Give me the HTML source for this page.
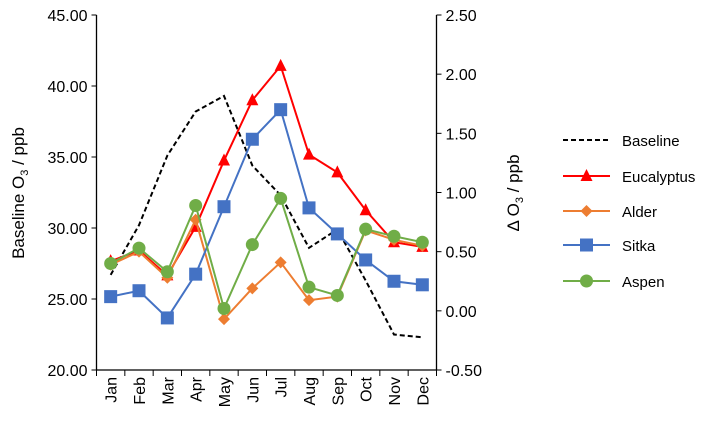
<!DOCTYPE html>
<html><head><meta charset="utf-8"><style>
body{margin:0;background:#fff;}
svg text{font-family:"Liberation Sans",Arial,sans-serif;fill:#000;}
</style></head><body>
<svg width="715" height="423">
<g id="g"></g>
</svg>
<script>
const months=["Jan","Feb","Mar","Apr","May","Jun","Jul","Aug","Sep","Oct","Nov","Dec"];
const baseline=[26.7,30.2,35.1,38.2,39.3,34.4,32.3,28.6,29.9,26.3,22.5,22.3];
const eucalyptus=[0.42,0.51,0.30,0.71,1.27,1.78,2.07,1.32,1.17,0.85,0.58,0.54];
const alder=[0.39,0.50,0.28,0.77,-0.07,0.19,0.41,0.09,0.12,0.68,0.60,0.55];
const sitka=[0.12,0.17,-0.06,0.31,0.88,1.45,1.70,0.87,0.65,0.43,0.25,0.22];
const aspen=[0.40,0.53,0.33,0.89,0.02,0.56,0.95,0.20,0.13,0.69,0.63,0.58];
const leftTicks=["20.00","25.00","30.00","35.00","40.00","45.00"];
const rightTicks=["-0.50","0.00","0.50","1.00","1.50","2.00","2.50"];
const NS="http://www.w3.org/2000/svg",g=document.getElementById('g');
const L=96.5,R=436.5,T=15,B=370;
const cw=(R-L)/12;
const x=i=>L+cw*(i+0.5);
const yL=v=>B-(v-20)/25*(B-T);
const yR=v=>B-(v+0.5)/3*(B-T);
function el(t,a,p){const e=document.createElementNS(NS,t);for(const k in a)e.setAttribute(k,a[k]);(p||g).appendChild(e);return e;}
// axes
let e;
e=el('line',{x1:L,y1:T,x2:L,y2:B,stroke:'#000','stroke-width':1.3});

e=el('line',{x1:R,y1:T,x2:R,y2:B,stroke:'#000','stroke-width':1.3});

e=el('line',{x1:L,y1:B,x2:R,y2:B,stroke:'#000','stroke-width':1.3});

leftTicks.forEach(t=>{const y=yL(+t);el('line',{x1:L-5,y1:y,x2:L,y2:y,stroke:'#000'});
e=el('text',{x:L-9,y:y+6,'text-anchor':'end','font-size':16});e.textContent=t;
});
rightTicks.forEach(t=>{const y=yR(+t);el('line',{x1:R,y1:y,x2:R+5,y2:y,stroke:'#000'});
e=el('text',{x:R+9,y:y+6,'font-size':16});e.textContent=t;
});
for(let i=0;i<=12;i++){el('line',{x1:L+cw*i,y1:B,x2:L+cw*i,y2:B+6,stroke:'#000'});}
months.forEach((m,i)=>{e=el('text',{x:0,y:0,'text-anchor':'end','font-size':16,transform:`translate(${x(i)+6},${B+7}) rotate(-90)`});e.textContent=m;
});
// titles
e=el('text',{transform:'translate(24,193) rotate(-90)','text-anchor':'middle','font-size':17});
e.innerHTML='Baseline O<tspan font-size="11" dy="4">3</tspan><tspan dy="-4"> / ppb</tspan>';

e=el('text',{transform:'translate(519,193) rotate(-90)','text-anchor':'middle','font-size':17});
e.innerHTML='Δ O<tspan font-size="11" dy="4">3</tspan><tspan dy="-4"> / ppb</tspan>';

function marker(type,cx,cy,col,p){
 if(type==='tri')return el('polygon',{points:`${cx},${cy-7} ${cx+6},${cy+5} ${cx-6},${cy+5}`,fill:col},p);
 if(type==='dia')return el('polygon',{points:`${cx},${cy-6} ${cx+6},${cy} ${cx},${cy+6} ${cx-6},${cy}`,fill:col},p);
 if(type==='sq')return el('rect',{x:cx-6.5,y:cy-6.5,width:13,height:13,fill:col},p);
 if(type==='circ')return el('circle',{cx,cy,r:6.5,fill:col},p);
}
function series(name,vals,yf,col,type,dash,ly){
 const sg=el('g',{});
 
 el('polyline',{points:vals.map((v,i)=>x(i)+','+yf(v)).join(' '),fill:'none',stroke:col,'stroke-width':dash?2:2,'stroke-dasharray':dash?'5,3':'none'},sg);
 if(type)vals.forEach((v,i)=>{const m=marker(type,x(i),yf(v),col,sg);
  });
 const lg=el('g',{});
 
 el('line',{x1:563,y1:ly,x2:610,y2:ly,stroke:col,'stroke-width':2,'stroke-dasharray':dash?'5,3':'none'},lg);
 if(type)marker(type,586.5,ly,col,lg);
 const t=el('text',{x:622,y:ly+6,'font-size':15},lg);t.textContent=name;
}
series('Baseline',baseline,yL,'#000',null,true,140);
series('Eucalyptus',eucalyptus,yR,'#FF0000','tri',false,176);
series('Alder',alder,yR,'#ED7D31','dia',false,211);
series('Sitka',sitka,yR,'#4472C4','sq',false,245);
series('Aspen',aspen,yR,'#70AD47','circ',false,281);
</script>
</body></html>
